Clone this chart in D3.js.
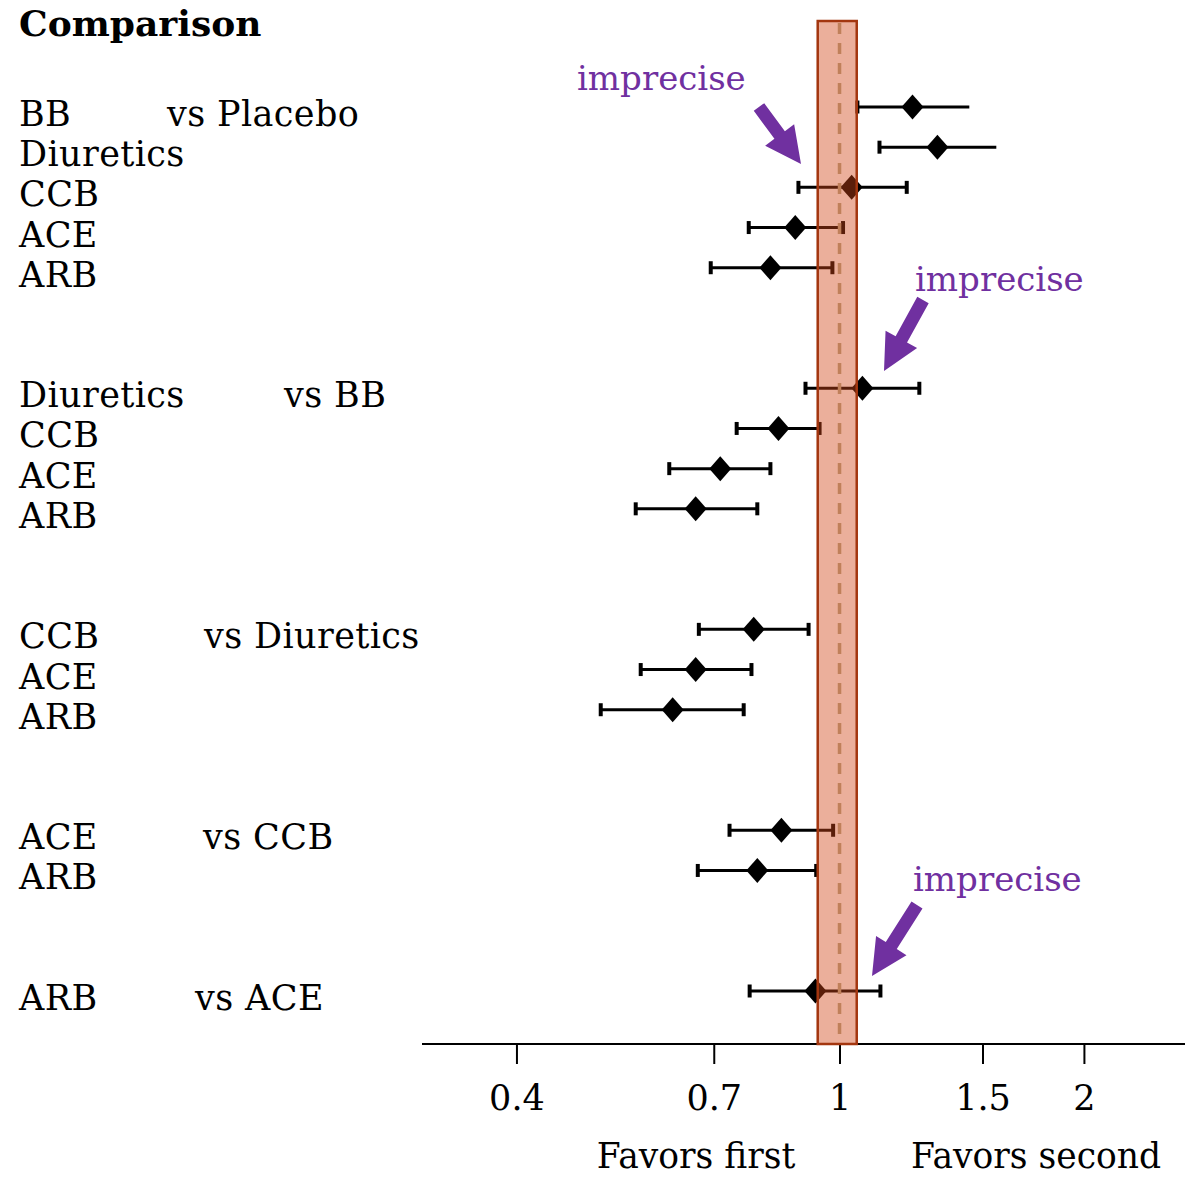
<!DOCTYPE html>
<html>
<head>
<meta charset="utf-8">
<script src="https://cdn.jsdelivr.net/npm/d3@7"></script>
<style>
  body { margin: 0; background: #fff; }
  text { font-family: "DejaVu Serif", serif; }
</style>
</head>
<body>
<div id="chart"></div>
<script>
var svgWidth = 1185;
var svgHeight = 1177;

// data
var comparators = ["Placebo", "BB", "Diuretics", "CCB", "ACE"];
var drugs = ["BB", "Diuretics", "CCB", "ACE", "ARB",
             "Diuretics", "CCB", "ACE", "ARB",
             "CCB", "ACE", "ARB",
             "ACE", "ARB",
             "ARB"];
var groupOf  = [0, 0, 0, 0, 0, 1, 1, 1, 1, 2, 2, 2, 3, 3, 4];
var rowIndex = [0, 1, 2, 3, 4, 7, 8, 9, 10, 13, 14, 15, 18, 19, 22];
var estimate = [1.23, 1.32, 1.035, 0.882, 0.822, 1.067, 0.841, 0.713, 0.665, 0.784, 0.665, 0.623, 0.848, 0.792, 0.934];
var lower    = [1.052, 1.12, 0.89, 0.773, 0.694, 0.908, 0.747, 0.617, 0.561, 0.671, 0.569, 0.508, 0.732, 0.669, 0.775];
var upper    = [1.445, 1.56, 1.21, 1.01, 0.98, 1.254, 0.945, 0.822, 0.792, 0.916, 0.779, 0.762, 0.982, 0.936, 1.123];
var upperCap = [false, false, true, true, true, true, true, true, true, true, true, true, true, true, true];
var xTicks = [0.4, 0.7, 1, 1.5, 2];
var equivBand = [0.94, 1.05];

var svg = d3.select("#chart")
  .append("svg")
  .attr("width", svgWidth)
  .attr("height", svgHeight);

var x = d3.scaleLog()
  .domain([0.306, 2.664])
  .range([422, 1185]);

var y = d3.scaleLinear()
  .domain([0, 22])
  .range([107, 991]);

var axisY = 1044;
var rows = drugs.map((d, i) => ({
  drug: d, group: groupOf[i], idx: rowIndex[i],
  est: estimate[i], lo: lower[i], hi: upper[i], cap: upperCap[i]
}));

// left labels
svg.append("text")
  .attr("x", 19)
  .attr("y", 36)
  .attr("font-size", 36)
  .attr("font-weight", "bold")
  .text("Comparison");

svg.selectAll("text.drug")
  .data(rows)
  .enter()
  .append("text")
  .classed("drug", true)
  .attr("x", 19)
  .attr("y", d => y(d.idx) + 19)
  .attr("font-size", 35)
  .attr("letter-spacing", 0.4)
  .text(d => d.drug);

var vsX = [167, 284, 204, 203, 195];
var firstRow = comparators.map((c, i) => rows.find(r => r.group === i));
svg.selectAll("text.vs")
  .data(comparators)
  .enter()
  .append("text")
  .classed("vs", true)
  .attr("x", (d, i) => vsX[i])
  .attr("y", (d, i) => y(firstRow[i].idx) + 19)
  .attr("font-size", 35)
  .attr("letter-spacing", 0.4)
  .text(d => "vs " + d);

// axis
var axis = svg.append("g")
  .attr("transform", `translate(0, ${axisY})`)
  .call(d3.axisBottom(x).tickValues(xTicks).tickSize(20).tickPadding(21).tickFormat(d3.format("")));
axis.select(".domain").attr("stroke", "#000").attr("stroke-width", 2).attr("d", `M${x.range()[0]},0H${x.range()[1]}`);
axis.selectAll(".tick line").attr("stroke", "#000").attr("stroke-width", 2);
axis.selectAll(".tick text")
  .attr("fill", "#000")
  .attr("font-size", 35)
  .attr("font-family", "DejaVu Serif, serif")
  .attr("dy", "0.71em");

svg.append("text")
  .attr("x", 696)
  .attr("y", 1168)
  .attr("text-anchor", "middle")
  .attr("font-size", 34.5)
  .text("Favors first");
svg.append("text")
  .attr("x", 1036)
  .attr("y", 1168)
  .attr("text-anchor", "middle")
  .attr("font-size", 34.5)
  .text("Favors second");

// error bars
var bars = svg.selectAll("g.row")
  .data(rows)
  .enter()
  .append("g")
  .classed("row", true);

bars.append("line")
  .attr("x1", d => x(d.lo))
  .attr("x2", d => x(d.hi))
  .attr("y1", d => y(d.idx))
  .attr("y2", d => y(d.idx))
  .attr("stroke", "#000")
  .attr("stroke-width", 3);

bars.append("line")
  .attr("x1", d => x(d.lo))
  .attr("x2", d => x(d.lo))
  .attr("y1", d => y(d.idx) - 6.5)
  .attr("y2", d => y(d.idx) + 6.5)
  .attr("stroke", "#000")
  .attr("stroke-width", 4);

bars.filter(d => d.cap)
  .append("line")
  .attr("x1", d => x(d.hi))
  .attr("x2", d => x(d.hi))
  .attr("y1", d => y(d.idx) - 6.5)
  .attr("y2", d => y(d.idx) + 6.5)
  .attr("stroke", "#000")
  .attr("stroke-width", 4);

bars.append("path")
  .attr("d", d => {
    var cx = x(d.est), cy = y(d.idx);
    return `M${cx - 11},${cy}L${cx},${cy - 12.5}L${cx + 11},${cy}L${cx},${cy + 12.5}Z`;
  })
  .attr("fill", "#000");

// equivalence band over the marks
svg.append("rect")
  .attr("x", x(equivBand[0]))
  .attr("y", 21)
  .attr("width", x(equivBand[1]) - x(equivBand[0]))
  .attr("height", axisY - 21)
  .attr("fill", "rgb(209,70,23)")
  .attr("fill-opacity", 0.43)
  .attr("stroke", "#A3360F")
  .attr("stroke-width", 2.5);

svg.append("line")
  .attr("x1", x(1))
  .attr("x2", x(1))
  .attr("y1", 23)
  .attr("y2", axisY - 1)
  .attr("stroke", "#C0805A")
  .attr("stroke-width", 3.5)
  .attr("stroke-dasharray", "11,9");

// "imprecise" annotations
var notes = [
  { tx: 577, ty: 90, s: [759, 107], t: [801, 164] },
  { tx: 915, ty: 291, s: [923, 300], t: [884, 371] },
  { tx: 913, ty: 891, s: [917, 905], t: [872, 976] }
];

function arrowPoints(s, t) {
  var dx = t[0] - s[0], dy = t[1] - s[1];
  var len = Math.sqrt(dx * dx + dy * dy);
  var ux = dx / len, uy = dy / len;
  var nx = -uy, ny = ux;
  var w = 6.5, hw = 18, hl = 36;
  var bx = t[0] - ux * hl, by = t[1] - uy * hl;
  return [
    [s[0] + nx * w, s[1] + ny * w],
    [bx + nx * w, by + ny * w],
    [bx + nx * hw, by + ny * hw],
    t,
    [bx - nx * hw, by - ny * hw],
    [bx - nx * w, by - ny * w],
    [s[0] - nx * w, s[1] - ny * w]
  ].map(p => p.join(",")).join(" ");
}

svg.selectAll("text.note")
  .data(notes)
  .enter()
  .append("text")
  .classed("note", true)
  .attr("x", d => d.tx)
  .attr("y", d => d.ty)
  .attr("font-size", 34)
  .attr("fill", "#7030A0")
  .text("imprecise");

svg.selectAll("polygon.arrow")
  .data(notes)
  .enter()
  .append("polygon")
  .classed("arrow", true)
  .attr("points", d => arrowPoints(d.s, d.t))
  .attr("fill", "#7030A0");
</script>
</body>
</html>
